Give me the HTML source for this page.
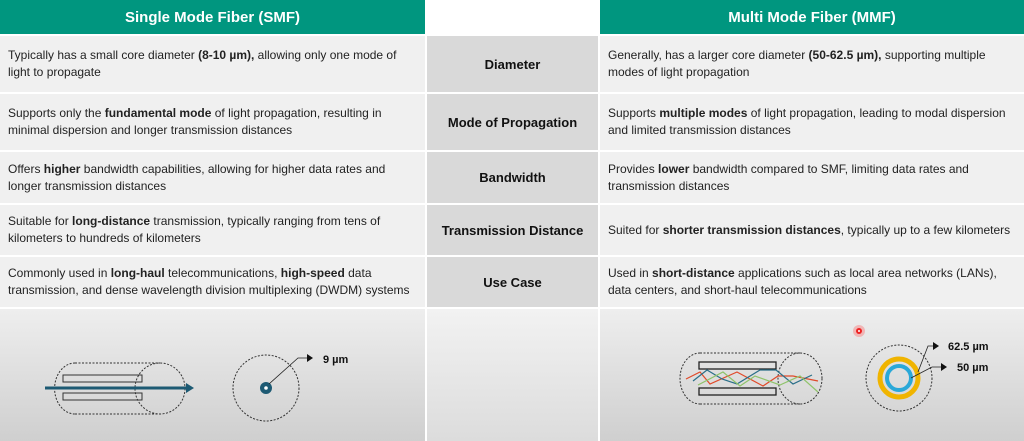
<!DOCTYPE html>
<html><head><meta charset="utf-8"><style>
*{margin:0;padding:0;box-sizing:border-box}
body{width:1024px;height:441px;overflow:hidden;background:#fff;font-family:"Liberation Sans",sans-serif;position:relative}
.a{position:absolute}
.hd{background:#00967f;color:#fff;font-weight:bold;font-size:15px;display:flex;align-items:center;justify-content:center;top:0;height:34px}
.c{background:#f0f0f0;font-size:12px;line-height:17px;color:#222;padding:0 8px;display:flex;align-items:center;white-space:nowrap}
.m{background:#d9d9d9;font-size:13px;font-weight:bold;color:#111;display:flex;align-items:center;justify-content:center;left:427px;width:171px}
.L{left:0;width:425px}.R{left:600px;width:424px}
.bot{top:309px;height:132px;background:linear-gradient(#eeeeee,#cfcfcf)}
</style></head><body>
<div class="a hd L">Single Mode Fiber (SMF)</div>
<div class="a hd R">Multi Mode Fiber (MMF)</div>

<div class="a c L" style="top:36px;height:56px"><span>Typically has a small core diameter <b>(8-10 µm),</b> allowing only one mode of<br>light to propagate</span></div>
<div class="a c L" style="top:94px;height:56px"><span>Supports only the <b>fundamental mode</b> of light propagation, resulting in<br>minimal dispersion and longer transmission distances</span></div>
<div class="a c L" style="top:152px;height:51px"><span>Offers <b>higher</b> bandwidth capabilities, allowing for higher data rates and<br>longer transmission distances</span></div>
<div class="a c L" style="top:205px;height:50px"><span>Suitable for <b>long-distance</b> transmission, typically ranging from tens of<br>kilometers to hundreds of kilometers</span></div>
<div class="a c L" style="top:257px;height:50px"><span>Commonly used in <b>long-haul</b> telecommunications, <b>high-speed</b> data<br>transmission, and dense wavelength division multiplexing (DWDM) systems</span></div>

<div class="a m" style="top:36px;height:56px">Diameter</div>
<div class="a m" style="top:94px;height:56px">Mode of Propagation</div>
<div class="a m" style="top:152px;height:51px">Bandwidth</div>
<div class="a m" style="top:205px;height:50px">Transmission Distance</div>
<div class="a m" style="top:257px;height:50px">Use Case</div>

<div class="a c R" style="top:36px;height:56px"><span>Generally, has a larger core diameter <b>(50-62.5 µm),</b> supporting multiple<br>modes of light propagation</span></div>
<div class="a c R" style="top:94px;height:56px"><span>Supports <b>multiple modes</b> of light propagation, leading to modal dispersion<br>and limited transmission distances</span></div>
<div class="a c R" style="top:152px;height:51px"><span>Provides <b>lower</b> bandwidth compared to SMF, limiting data rates and<br>transmission distances</span></div>
<div class="a c R" style="top:205px;height:50px"><span>Suited for <b>shorter transmission distances</b>, typically up to a few kilometers</span></div>
<div class="a c R" style="top:257px;height:50px"><span>Used in <b>short-distance</b> applications such as local area networks (LANs),<br>data centers, and short-haul telecommunications</span></div>

<div class="a bot L"></div>
<div class="a" style="left:427px;width:171px;top:309px;height:132px;background:linear-gradient(#f2f2f2,#dcdcdc)"></div>
<div class="a bot R"></div>

<svg class="a" style="left:0;top:0" width="1024" height="441">
<g fill="none" stroke="#333" stroke-dasharray="2,1.5" stroke-width="1">
<path d="M75,363 L160,363 M75,414 L160,414 M75,363 A20,25 0 0 0 75,414"/>
<ellipse cx="160" cy="388.5" rx="25" ry="25.5"/>
<circle cx="266" cy="388" r="33"/>
</g>
<rect x="63" y="375" width="79" height="7" fill="none" stroke="#333"/>
<rect x="63" y="393" width="79" height="7" fill="none" stroke="#333"/>
<line x1="45" y1="388" x2="188" y2="388" stroke="#1d5a73" stroke-width="3"/>
<path d="M186,383L194,388L186,393z" fill="#1d5a73"/>
<circle cx="266" cy="388" r="6" fill="#1d5a73"/><circle cx="266" cy="388" r="1.8" fill="#fff"/>
<path d="M269,384L298,358L310,358" fill="none" stroke="#222" stroke-width="0.8"/>
<path d="M307,354L313,358L307,362z" fill="#111"/>
<text x="323" y="363" font-size="11" font-weight="bold" fill="#111" font-family="Liberation Sans">9 µm</text>
<g fill="none" stroke="#333" stroke-dasharray="2,1.5">
<path d="M700,353 L800,353 M700,404 L800,404 M700,353 A20,25.5 0 0 0 700,404"/>
<ellipse cx="800" cy="378.5" rx="22" ry="25.5"/>
<circle cx="899" cy="378" r="33"/>
</g>
<rect x="699" y="362" width="77" height="7" fill="none" stroke="#222" stroke-width="1.3"/>
<rect x="699" y="388" width="77" height="7" fill="none" stroke="#222" stroke-width="1.3"/>
<polyline points="686,379 700,372 710,384 737,372 763,386 778,376 793,376 818,381" fill="none" stroke="#e04a2a" stroke-width="1.2"/>
<polyline points="693,381 707,370 722,379 737,384 760,370 776,370 793,384 812,375" fill="none" stroke="#2a6f88" stroke-width="1.2"/>
<polyline points="698,385 723,372 740,386 755,376 780,385 800,376 818,392" fill="none" stroke="#8fc36a" stroke-width="1.2"/>
<circle cx="899" cy="378" r="19" fill="none" stroke="#f0b400" stroke-width="5"/>
<circle cx="899" cy="378" r="12" fill="none" stroke="#2aa8d8" stroke-width="4"/>
<path d="M918,372L928,346L935,346" fill="none" stroke="#222" stroke-width="0.8"/>
<path d="M933,342L939,346L933,350z" fill="#111"/>
<path d="M911,378L932,367L943,367" fill="none" stroke="#222" stroke-width="0.8"/>
<path d="M941,363L947,367L941,371z" fill="#111"/>
<text x="948" y="350" font-size="11" font-weight="bold" fill="#111" font-family="Liberation Sans">62.5 µm</text>
<text x="957" y="371" font-size="11" font-weight="bold" fill="#111" font-family="Liberation Sans">50 µm</text>
<circle cx="859" cy="331" r="6" fill="#f55" opacity="0.35"/>
<circle cx="859" cy="331" r="3" fill="#e22"/><circle cx="859" cy="331" r="1" fill="#fff"/>
</svg>
</body></html>
